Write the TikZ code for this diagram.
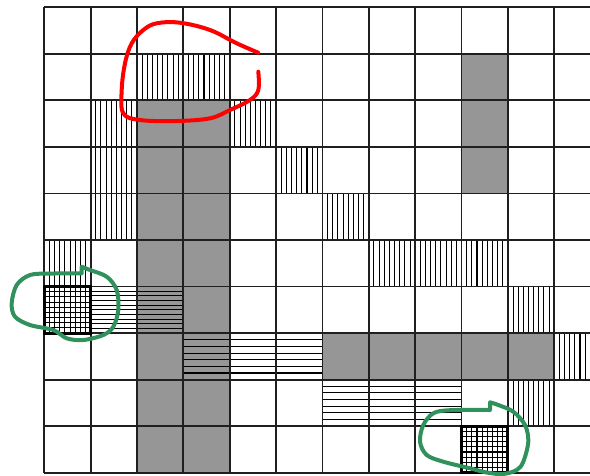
\documentclass[tikz,border=0pt]{standalone}
\definecolor{markgreen}{RGB}{48,145,92}
\tikzset{
  gridline/.style={line width=1.8pt, draw=black!88},
  hatch/.style={line width=1.05pt, draw=black},
  shade/.style={fill=black!41},
  crossframe/.style={line width=3pt, draw=black},
  redmark/.style={draw=red, line width=4pt, line cap=round, line join=round},
  greenmark/.style={draw=markgreen, line width=4pt, line cap=round, line join=round}
}
\newcommand\vh[2]{\foreach \k in {1,...,8} {\draw[hatch] ({#1+\k/9},#2) -- ++(0,1);}}
\newcommand\hh[3]{\foreach \k in {1,...,#3} {\draw[hatch] (#1,{#2+\k/(#3+1)}) -- ++(1,0);}}
\newcommand\xh[2]{\foreach \k in {1,...,8} {\draw[hatch] ({#1+\k/9},#2) -- ++(0,1); \draw[hatch] (#1,{#2+\k/9}) -- ++(1,0);}}
\begin{document}
\begin{tikzpicture}[x=1pt,y=-1pt]
\useasboundingbox (0,0) rectangle (590,475);
\fill[white] (0,0) rectangle (590,475);
\clip (0,0) rectangle (590,475);
\begin{scope}[shift={(44.3pt,-7.3pt)}, x=46.36pt, y=-46.54pt]
  % gray cells
  \fill[shade] (2,2) rectangle (4,10);
  \fill[shade] (9,1) rectangle (10,4);
  \fill[shade] (6,7) rectangle (11,8);
  % vertical hatching
  \foreach \c/\r in {2/1,3/1,1/2,4/2,1/3,5/3,1/4,6/4,0/5,7/5,8/5,9/5,10/6,11/7,10/8} {\vh{\c}{\r}}
  % horizontal hatching
  \foreach \c in {1,2} {\hh{\c}{6}{9}}
  \foreach \c in {3,4,5} {\hh{\c}{7}{6}}
  \foreach \c in {6,7,8} {\hh{\c}{8}{6}}
  % cross hatching
  \xh{0}{6}
  \xh{9}{9}
  % grid
  \foreach \c in {0,...,11} {\draw[gridline] (\c,0) -- (\c,10);}
  \foreach \r in {0,...,10} {\draw[gridline] (0,\r) -- (12.5,\r);}
  \draw[crossframe] (0,6) rectangle (1,7);
  \draw[crossframe] (9,9) rectangle (10,10);
\end{scope}
% red mark
\draw[redmark] plot[smooth, tension=0.6] coordinates {(258.3,52.7) (236.7,43.3) (210,30) (180,22.7) (156.7,23.3) (143.3,30) (131.7,43.3) (125,63.3) (121.7,90) (123.3,113.3) (140,120) (176.7,121) (210,118.3) (230,110) (250,100) (258.3,90) (258.3,71.7)};
% green marks
\draw[greenmark] plot[smooth, tension=0.55] coordinates {(81.7,266.7) (90,270) (106.7,276.7) (116.7,290) (118.3,310) (113.3,326.7) (103.3,335) (83.3,340) (66.7,338.3) (53.3,330) (30,325) (15,316.7) (11.7,303.3) (16.7,285) (30,275) (50,273.6) (81.7,273.3)} -- cycle;
\draw[greenmark] plot[smooth, tension=0.55] coordinates {(490,402.3) (498.3,405) (513.3,411.7) (525,425) (528.3,441.7) (523.3,461.7) (516.7,470) (503,474) (486.7,472.5) (470,468.3) (443.3,461.7) (426.7,455) (420,441.7) (423.3,425) (433.3,413.3) (450,410.2) (490,410)} -- cycle;
\end{tikzpicture}
\end{document}
